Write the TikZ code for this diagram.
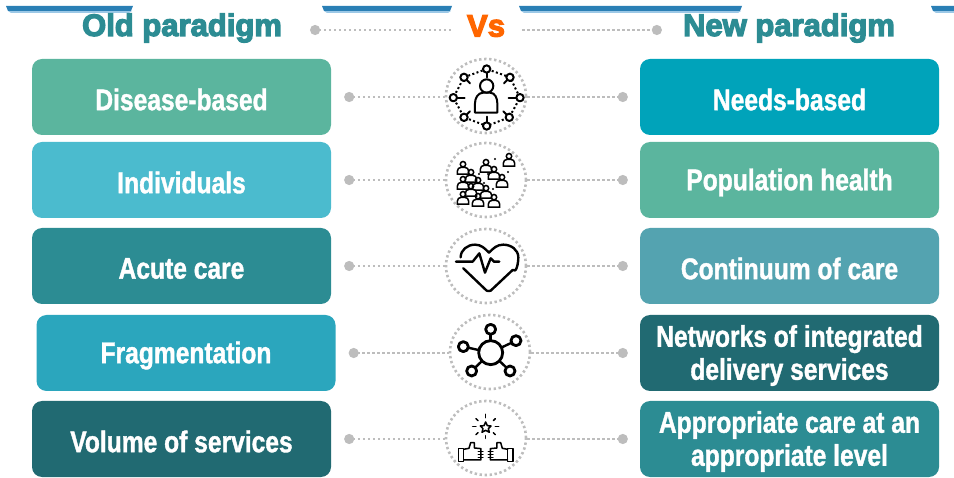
\documentclass[tikz,border=0pt]{standalone}
\usepackage{fontspec}
\usetikzlibrary{arrows.meta,shapes.geometric}
\newfontfamily\boxfont[FakeStretch=0.82,FakeBold=1.2]{Liberation Sans}
\newfontfamily\headfont[FakeStretch=1.0,FakeBold=4]{Liberation Sans}
\definecolor{mintgreen}{HTML}{5BB59E}
\definecolor{skyteal}{HTML}{4BBBCE}
\definecolor{midteal}{HTML}{2C8C93}
\definecolor{brightteal}{HTML}{2BA6BD}
\definecolor{darkteal}{HTML}{216A72}
\definecolor{needsblue}{HTML}{00A3BA}
\definecolor{softteal}{HTML}{54A3B0}
\definecolor{barblue}{HTML}{2A7FB5}
\definecolor{barlight}{HTML}{9CC8E6}
\definecolor{dotgrey}{HTML}{BDBDBD}
\definecolor{vsorange}{HTML}{FF6600}
\tikzset{
  paradigmbox/.style={rounded corners=10pt, minimum width=299pt, minimum height=76pt, inner sep=0pt},
  boxlabel/.style={align=center, text=white, inner sep=0pt, yshift=-2.5pt,
    font=\boxfont\bfseries\fontsize{30}{33}\selectfont},
  headlabel/.style={inner sep=0pt, font=\headfont\bfseries\fontsize{31}{32}\selectfont},
  iconring/.style={ellipse, draw=dotgrey, line width=2.6pt, dash pattern=on 2.4pt off 2.6pt,
    minimum width=80pt, minimum height=74pt, inner sep=0pt},
  dotline/.style={draw=dotgrey, line width=2.6pt, dash pattern=on 2.4pt off 2.6pt},
  dotend/.style={dotline, {Circle[length=10pt,width=10pt,fill=dotgrey,sep=0pt]}-},
  endtod/.style={dotline, -{Circle[length=10pt,width=10pt,fill=dotgrey,sep=0pt]}},
  icon/.style={draw=black, line width=2pt, line cap=round, line join=round},
  crowdperson/.pic={
    \draw[line width=1.5pt] (0,-3.8) circle (2.7);
    \draw[line width=1.5pt, fill=white] (-5.6,6.2) -- (-5.6,3) to[out=90,in=180] (-2,-0.6) -- (2,-0.6) to[out=0,in=90] (5.6,3) -- (5.6,6.2) -- cycle;
  }
}
\begin{document}
\begin{tikzpicture}[x=1pt,y=-1pt]
  \useasboundingbox (0,0) rectangle (954,478);

  % Top strips
  \foreach \xa/\xb in {6/133,322/452,519/742,931/960} {
    \fill[barlight] (\xa+2,11) -- (\xb-1,11) -- (\xb-4,13) -- (\xa+5,13) -- cycle;
    \fill[barblue] (\xa,6) -- (\xb,6) -- (\xb-2,11) -- (\xa+2,11) -- cycle;
  }

  % Header
  \node[headlabel, text=midteal] (oldhead) at (182,28) {Old paradigm};
  \node[headlabel, text=vsorange] (vshead) at (486,26) {Vs};
  \node[headlabel, text=midteal] (newhead) at (789,28) {New paradigm};
  \draw[dotend, shorten <=28pt, shorten >=14pt] (oldhead.east |- 0,30) -- (vshead.west |- 0,30);
  \draw[endtod, shorten <=17pt, shorten >=21pt] (vshead.east |- 0,30) -- (newhead.west |- 0,30);

  % Boxes and icon rings, one row each
  \foreach \i/\xl/\xm/\y/\ym/\lcol/\ltxt/\rcol/\rtxt in {
    1/181.5/486/97/96/mintgreen/{Disease-based}/needsblue/{Needs-based},
    2/181.5/486/180/180/skyteal/{Individuals}/mintgreen/{Population health},
    3/181.5/486/266/266/midteal/{Acute care}/softteal/{Continuum of care},
    4/186/490/353/352/brightteal/{Fragmentation}/darkteal/{Networks of integrated\\delivery services},
    5/181.5/486/439/438/darkteal/{Volume of services}/midteal/{Appropriate care at an\\appropriate level}} {
    \node[paradigmbox, fill=\lcol] (old\i) at (\xl,\y) {};
    \node[paradigmbox, fill=\rcol] (new\i) at (789.5,\y) {};
    \node[boxlabel] (oldtext\i) at (old\i) {\ltxt};
    \node[boxlabel] (newtext\i) at (new\i) {\rtxt};
    \node[iconring] (ring\i) at (\xm,\ym) {};
    \draw[dotend, shorten <=13pt] (old\i.east) -- (ring\i.west |- old\i.east);
    \draw[endtod, shorten >=12pt] (ring\i.east |- new\i.west) -- (new\i.west);
  }

  % Icon 1: person in a ring of pins
  \begin{scope}[shift={(420,50)},x=0.3333pt,y=-0.3333pt]
    \draw[icon] (200,108) circle (20);
    \draw[icon] (165,188) -- (165,160) to[out=90,in=180] (190,128) -- (210,128) to[out=0,in=90] (232,160) -- (232,188) -- cycle;
    \draw[line width=2pt, dash pattern=on 2pt off 2.4pt] (200,57) -- (132,82) -- (100,143) -- (132,202) -- (200,228) -- (268,202) -- (300,143) -- (270,82) -- cycle;
    \foreach \px/\py/\qx/\qy in {200/57/200/82,132/82/150/100,270/82/252/100,100/143/134/143,300/143/266/143,132/202/150/184,268/202/250/184,200/228/200/200} {
      \draw[icon] (\qx,\qy) -- (\px,\py);
      \draw[icon, fill=white] (\px,\py) circle (11);
    }
  \end{scope}

  % Icon 2: crowd
  \foreach \px/\py in {509/160,486/166,463/168,494/173,471/176,502/181,463/183,478/184,471/190,486/192,463/198,478/200,494/201} {
    \pic at (\px,\py) {crowdperson};
  }
  \foreach \px/\py in {495/159,479/174,488/174,508/172,484/183,493/189} {
    \fill (\px,\py) circle (1.1);
  }

  % Icon 3: heart with pulse
  \begin{scope}[shift={(420,220)},x=0.3333pt,y=-0.3333pt]
    \draw[icon, line width=2.4pt] (130,145) -- (200,212) to[out=0,in=-140] (212,212) -- (278,150) to[out=-45,in=-90] (295,112) to[out=90,in=0] (250,74) to[out=180,in=45] (207,98) to[out=135,in=0] (165,74) to[out=180,in=90] (122,112);
    \draw[icon, line width=2.4pt] (108,125) -- (158,125) -- (178,100) -- (195,158) -- (212,115) -- (222,125) -- (238,125);
  \end{scope}

  % Icon 4: hub and satellites
  \begin{scope}[shift={(420,220)},x=0.3333pt,y=-0.3333pt]
    \foreach \px/\py in {212/328,130/380,288/362,155/453,270/453} {
      \draw[icon, line width=2.4pt] (212,398) -- (\px,\py);
      \draw[icon, line width=2.8pt, fill=white] (\px,\py) circle (15);
    }
    \draw[icon, line width=2.8pt, fill=white] (212,398) circle (36);
  \end{scope}

  % Icon 5: star and two hands
  \begin{scope}[shift={(420,220)},x=0.3333pt,y=-0.3333pt]
    \draw[icon, line width=1.5pt] (197,606) -- (202,617) -- (213,618) -- (205,626) -- (208,637) -- (197,631) -- (186,637) -- (189,626) -- (181,618) -- (192,617) -- cycle;
    \foreach \ax/\ay/\bx/\by in {197/583/197/593,197/647/197/655,158/620/168/620,226/620/236/620,168/596/174/602,226/596/220/602,168/644/174/638,226/644/220/638} {
      \draw[icon, line width=1.5pt] (\ax,\ay) -- (\bx,\by);
    }
    \foreach \sgn in {1,-1} {
      \begin{scope}[shift={(197,0)},xscale=\sgn]
        \draw[icon, line width=1.5pt] (-82,685) rectangle (-66,724);
        \draw[icon, line width=1.5pt] (-66,688) -- (-50,685) -- (-45,668) -- (-34,668) -- (-34,684) -- (-14,686) -- (-14,720) -- (-66,720);
        \foreach \fy in {694,703,712} {
          \draw[icon, line width=1.5pt] (-22,\fy) -- (-8,\fy);
        }
      \end{scope}
    }
  \end{scope}
\end{tikzpicture}
\end{document}
